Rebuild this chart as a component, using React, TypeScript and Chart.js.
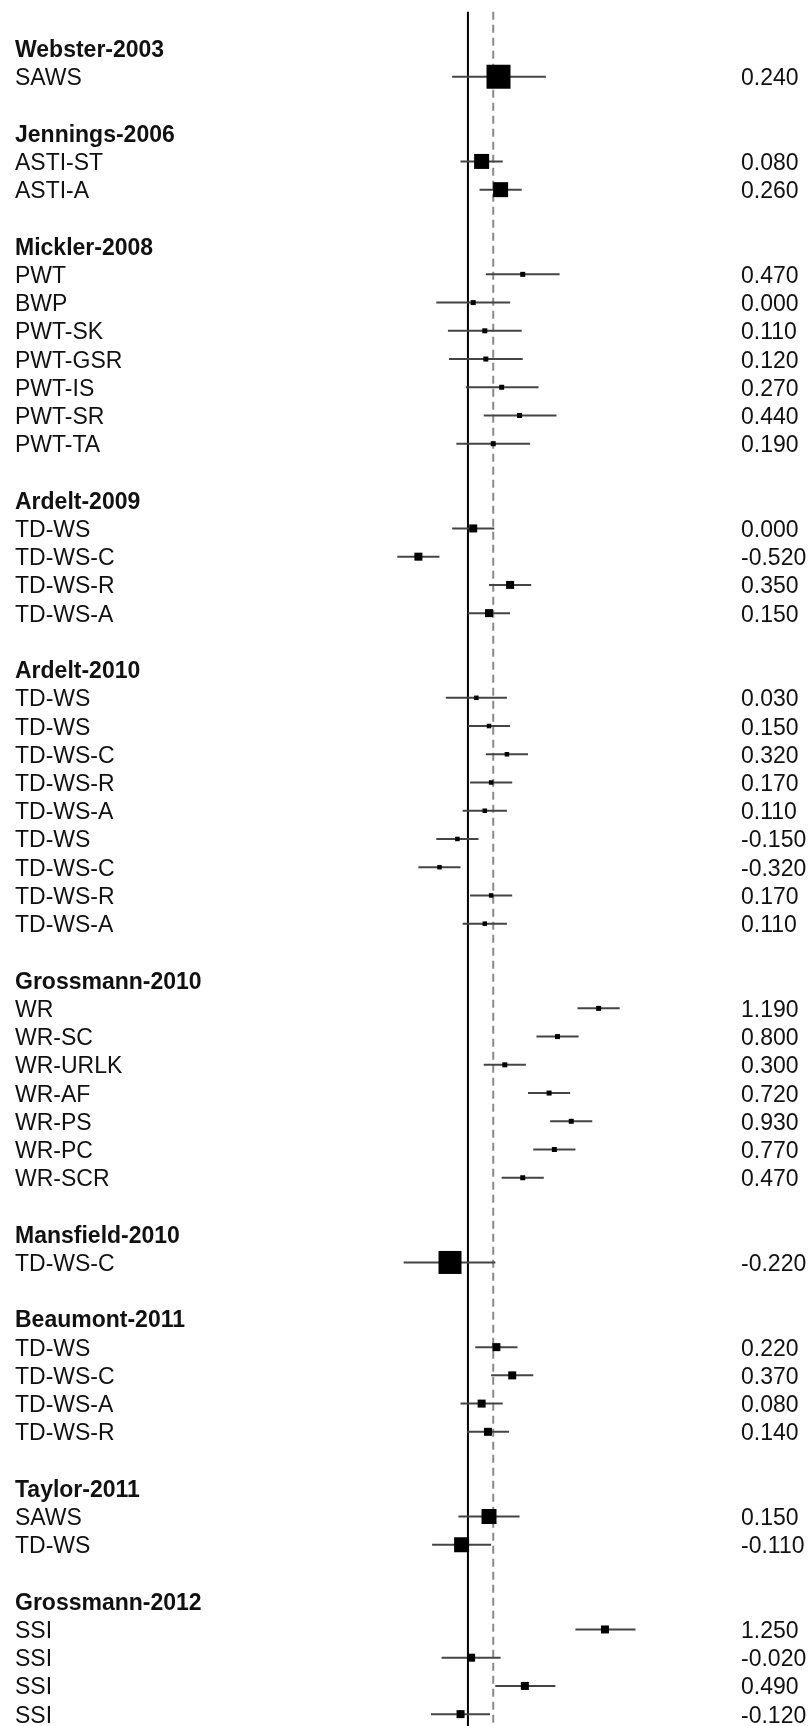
import { useEffect, useRef } from 'react';
import { Chart, registerables } from 'chart.js';

Chart.register(...registerables);

// Studies and their outcome measures (one forest-plot block per study)
const studyNames = [
  'Webster-2003',
  'Jennings-2006',
  'Mickler-2008',
  'Ardelt-2009',
  'Ardelt-2010',
  'Grossmann-2010',
  'Mansfield-2010',
  'Beaumont-2011',
  'Taylor-2011',
  'Grossmann-2012',
];

const outcomeLabels: string[][] = [
  ['SAWS'],
  ['ASTI-ST', 'ASTI-A'],
  ['PWT', 'BWP', 'PWT-SK', 'PWT-GSR', 'PWT-IS', 'PWT-SR', 'PWT-TA'],
  ['TD-WS', 'TD-WS-C', 'TD-WS-R', 'TD-WS-A'],
  ['TD-WS', 'TD-WS', 'TD-WS-C', 'TD-WS-R', 'TD-WS-A', 'TD-WS', 'TD-WS-C', 'TD-WS-R', 'TD-WS-A'],
  ['WR', 'WR-SC', 'WR-URLK', 'WR-AF', 'WR-PS', 'WR-PC', 'WR-SCR'],
  ['TD-WS-C'],
  ['TD-WS', 'TD-WS-C', 'TD-WS-A', 'TD-WS-R'],
  ['SAWS', 'TD-WS'],
  ['SSI', 'SSI', 'SSI', 'SSI'],
];

// Effect sizes
const estimates: number[][] = [
  [0.24],
  [0.08, 0.26],
  [0.47, 0.0, 0.11, 0.12, 0.27, 0.44, 0.19],
  [0.0, -0.52, 0.35, 0.15],
  [0.03, 0.15, 0.32, 0.17, 0.11, -0.15, -0.32, 0.17, 0.11],
  [1.19, 0.8, 0.3, 0.72, 0.93, 0.77, 0.47],
  [-0.22],
  [0.22, 0.37, 0.08, 0.14],
  [0.15, -0.11],
  [1.25, -0.02, 0.49, -0.12],
];

// Confidence interval bounds
const ciLower: number[][] = [
  [-0.2],
  [-0.12, 0.06],
  [0.12, -0.35, -0.24, -0.23, -0.07, 0.1, -0.16],
  [-0.2, -0.72, 0.15, -0.05],
  [-0.26, -0.05, 0.12, -0.03, -0.1, -0.35, -0.52, -0.03, -0.1],
  [0.99, 0.6, 0.1, 0.52, 0.73, 0.57, 0.27],
  [-0.66],
  [0.02, 0.17, -0.12, -0.06],
  [-0.14, -0.39],
  [0.97, -0.3, 0.21, -0.4],
];

const ciUpper: number[][] = [
  [0.69],
  [0.28, 0.46],
  [0.82, 0.35, 0.46, 0.47, 0.62, 0.79, 0.54],
  [0.2, -0.32, 0.55, 0.35],
  [0.32, 0.35, 0.52, 0.37, 0.32, 0.05, -0.12, 0.37, 0.32],
  [1.39, 1.0, 0.5, 0.92, 1.13, 0.97, 0.67],
  [0.21],
  [0.42, 0.57, 0.28, 0.34],
  [0.44, 0.17],
  [1.54, 0.26, 0.78, 0.16],
];

// Relative study weights (drive the marker size)
const studyWeights = [24, 15, 5, 8, 4.5, 5, 23, 8, 15, 8];

// Reference lines: no effect, and pooled estimate
const noEffectLine = -0.05;
const pooledEstimate = 0.19;

type Row =
  | { kind: 'header'; row: number; text: string }
  | { kind: 'item'; row: number; text: string; est: number; lo: number; hi: number; weight: number };

const rows: Row[] = [];
let r = 1;
studyNames.forEach((name, s) => {
  rows.push({ kind: 'header', row: r++, text: name });
  outcomeLabels[s].forEach((label, i) => {
    rows.push({
      kind: 'item',
      row: r++,
      text: label,
      est: estimates[s][i],
      lo: ciLower[s][i],
      hi: ciUpper[s][i],
      weight: studyWeights[s],
    });
  });
  r++; // spacer between studies
});

const items = rows.filter((x) => x.kind === 'item') as Extract<Row, { kind: 'item' }>[];

const FONT = '"Liberation Sans", Arial, Helvetica, sans-serif';

const forestPlugin = {
  id: 'forest',
  beforeDatasetsDraw(chart: any) {
    const { ctx, scales } = chart;
    const xs = scales.x;
    const ys = scales.y;
    const top = ys.getPixelForValue(-0.3);
    const bottom = chart.height;
    ctx.save();
    // solid no-effect line
    const x0 = xs.getPixelForValue(noEffectLine);
    ctx.strokeStyle = '#000';
    ctx.lineWidth = 2;
    ctx.beginPath();
    ctx.moveTo(x0, top);
    ctx.lineTo(x0, bottom);
    ctx.stroke();
    // dashed pooled-estimate line
    const xp = xs.getPixelForValue(pooledEstimate);
    ctx.strokeStyle = '#8a8a8a';
    ctx.setLineDash([8, 5]);
    ctx.beginPath();
    ctx.moveTo(xp, top);
    ctx.lineTo(xp, bottom);
    ctx.stroke();
    ctx.setLineDash([]);
    // confidence intervals
    ctx.strokeStyle = '#444';
    ctx.lineWidth = 2;
    items.forEach((it) => {
      const y = ys.getPixelForValue(it.row);
      ctx.beginPath();
      ctx.moveTo(xs.getPixelForValue(it.lo), y);
      ctx.lineTo(xs.getPixelForValue(it.hi), y);
      ctx.stroke();
    });
    ctx.restore();
  },
  afterDraw(chart: any) {
    const { ctx, scales } = chart;
    const ys = scales.y;
    ctx.save();
    ctx.fillStyle = '#111';
    ctx.textBaseline = 'alphabetic';
    ctx.textAlign = 'left';
    rows.forEach((row) => {
      const y = ys.getPixelForValue(row.row) + 8.5;
      if (row.kind === 'header') {
        ctx.font = `bold 23px ${FONT}`;
        ctx.fillText(row.text, 15, y);
      } else {
        ctx.font = `23px ${FONT}`;
        ctx.fillText(row.text, 15, y);
        ctx.fillText(row.est.toFixed(3), 741, y);
      }
    });
    ctx.restore();
  },
};

export default function App() {
  const ref = useRef<HTMLCanvasElement>(null);

  useEffect(() => {
    document.body.style.margin = '0';
    const canvas = ref.current;
    if (!canvas) return;
    const radii = items.map((it) => it.weight / Math.SQRT2);
    const chart = new Chart(canvas, {
      type: 'scatter',
      data: {
        datasets: [
          {
            data: items.map((it) => ({ x: it.est, y: it.row })),
            pointStyle: 'rect',
            pointRadius: radii,
            pointHoverRadius: radii,
            backgroundColor: '#000',
            borderColor: '#000',
            borderWidth: 0,
          },
        ],
      },
      options: {
        responsive: false,
        maintainAspectRatio: false,
        animation: false,
        devicePixelRatio: 1,
        layout: { padding: 0, autoPadding: false },
        plugins: {
          legend: { display: false },
          tooltip: { enabled: false },
        },
        events: [],
        scales: {
          x: { type: 'linear', min: -4.4896, max: 3.2049, display: false },
          y: { type: 'linear', min: -0.718, max: 60.42, reverse: true, display: false },
        },
      },
      plugins: [forestPlugin],
    });
    return () => chart.destroy();
  }, []);

  return <canvas ref={ref} width={811} height={1726} style={{ display: 'block' }} />;
}
